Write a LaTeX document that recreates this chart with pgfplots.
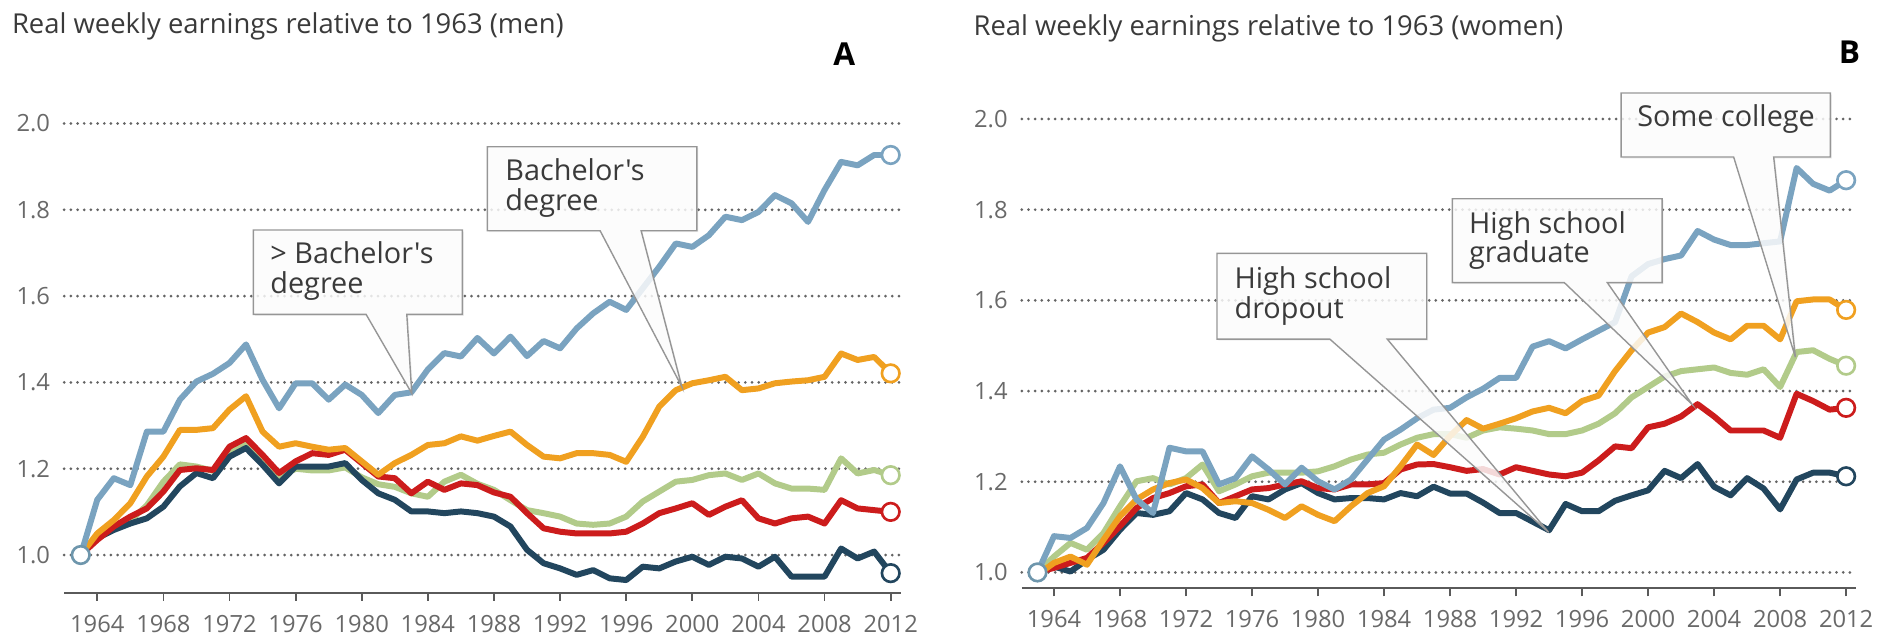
\documentclass[border=0pt]{standalone}
\usepackage{fontspec}
\setmainfont{Open Sans}[Ligatures=TeXOff]
\usepackage{pgfplots}
\usepackage{pgfplotstable}
\pgfplotsset{compat=1.18}
\usetikzlibrary{shadows}

\definecolor{cBlue}{RGB}{122,163,192}
\definecolor{cOrange}{RGB}{240,160,32}
\definecolor{cGreen}{RGB}{178,203,138}
\definecolor{cRed}{RGB}{204,28,28}
\definecolor{cNavy}{RGB}{34,70,94}
\definecolor{cStart}{RGB}{110,150,172}
\definecolor{cText}{RGB}{58,58,58}
\definecolor{cTick}{RGB}{105,105,105}
\definecolor{cAxis}{RGB}{90,90,90}
\definecolor{cGrid}{RGB}{100,100,100}
\definecolor{cBox}{RGB}{150,150,150}

% real weekly earnings relative to 1963, men
\pgfplotstableread{
year blue orange green red navy
1963 1.000 1.000 1.000 1.000 1.000
1964 1.128 1.050 1.040 1.035 1.039
1965 1.178 1.081 1.060 1.066 1.058
1966 1.162 1.120 1.080 1.089 1.073
1967 1.286 1.182 1.115 1.108 1.085
1968 1.286 1.228 1.170 1.147 1.112
1969 1.360 1.290 1.210 1.197 1.159
1970 1.402 1.290 1.205 1.201 1.190
1971 1.420 1.294 1.195 1.197 1.178
1972 1.445 1.337 1.240 1.251 1.228
1973 1.488 1.368 1.258 1.271 1.248
1974 1.406 1.286 1.222 1.232 1.209
1975 1.340 1.251 1.180 1.190 1.166
1976 1.398 1.259 1.200 1.217 1.205
1977 1.398 1.251 1.196 1.236 1.205
1978 1.360 1.244 1.196 1.232 1.205
1979 1.395 1.248 1.203 1.244 1.213
1980 1.371 1.217 1.180 1.213 1.174
1981 1.329 1.186 1.164 1.182 1.143
1982 1.371 1.213 1.158 1.178 1.128
1983 1.377 1.232 1.143 1.143 1.101
1984 1.430 1.255 1.135 1.170 1.101
1985 1.468 1.259 1.170 1.151 1.097
1986 1.460 1.275 1.186 1.166 1.101
1987 1.503 1.265 1.165 1.162 1.097
1988 1.467 1.276 1.151 1.145 1.089
1989 1.506 1.286 1.127 1.135 1.066
1990 1.461 1.255 1.104 1.097 1.012
1991 1.496 1.228 1.097 1.062 0.981
1992 1.479 1.224 1.089 1.054 0.969
1993 1.525 1.236 1.073 1.050 0.954
1994 1.560 1.236 1.070 1.050 0.965
1995 1.587 1.232 1.073 1.050 0.946
1996 1.568 1.216 1.089 1.054 0.942
1997 1.618 1.274 1.124 1.073 0.973
1998 1.668 1.344 1.147 1.097 0.969
1999 1.722 1.382 1.170 1.108 0.985
2000 1.714 1.398 1.174 1.120 0.996
2001 1.741 1.405 1.185 1.093 0.977
2002 1.784 1.413 1.189 1.112 0.996
2003 1.776 1.382 1.174 1.127 0.992
2004 1.795 1.386 1.189 1.085 0.973
2005 1.834 1.398 1.166 1.073 0.996
2006 1.815 1.402 1.154 1.085 0.950
2007 1.772 1.405 1.154 1.089 0.950
2008 1.846 1.413 1.151 1.073 0.950
2009 1.911 1.467 1.224 1.127 1.015
2010 1.903 1.452 1.189 1.108 0.992
2011 1.927 1.459 1.197 1.104 1.008
2012 1.927 1.421 1.185 1.100 0.958
}\tabMen

% same for women
\pgfplotstableread{
year blue orange green red navy
1963 1.000 0.995 1.000 1.000 1.000
1964 1.080 1.021 1.035 1.010 1.013
1965 1.076 1.035 1.065 1.021 1.002
1966 1.098 1.017 1.050 1.032 1.028
1967 1.153 1.072 1.087 1.065 1.050
1968 1.234 1.124 1.146 1.102 1.094
1969 1.161 1.161 1.201 1.142 1.131
1970 1.131 1.183 1.208 1.164 1.127
1971 1.275 1.197 1.194 1.175 1.135
1972 1.267 1.205 1.208 1.190 1.175
1973 1.267 1.186 1.238 1.194 1.161
1974 1.194 1.153 1.179 1.153 1.131
1975 1.208 1.157 1.194 1.168 1.120
1976 1.256 1.153 1.212 1.183 1.168
1977 1.227 1.138 1.220 1.186 1.161
1978 1.194 1.120 1.220 1.194 1.183
1979 1.231 1.146 1.220 1.201 1.197
1980 1.201 1.127 1.223 1.186 1.175
1981 1.183 1.113 1.234 1.183 1.161
1982 1.205 1.146 1.249 1.194 1.164
1983 1.249 1.175 1.260 1.194 1.164
1984 1.293 1.190 1.264 1.197 1.161
1985 1.315 1.234 1.282 1.227 1.175
1986 1.340 1.282 1.297 1.238 1.168
1987 1.359 1.259 1.305 1.239 1.189
1988 1.363 1.301 1.305 1.232 1.174
1989 1.386 1.336 1.297 1.224 1.174
1990 1.405 1.317 1.313 1.228 1.154
1991 1.429 1.328 1.320 1.216 1.131
1992 1.429 1.340 1.317 1.232 1.131
1993 1.498 1.355 1.313 1.224 1.112
1994 1.510 1.363 1.305 1.216 1.093
1995 1.494 1.351 1.305 1.212 1.151
1996 1.514 1.378 1.313 1.220 1.135
1997 1.533 1.390 1.328 1.247 1.135
1998 1.552 1.444 1.351 1.278 1.158
1999 1.653 1.490 1.386 1.274 1.170
2000 1.680 1.529 1.409 1.320 1.181
2001 1.691 1.541 1.432 1.328 1.224
2002 1.699 1.571 1.444 1.344 1.208
2003 1.753 1.552 1.448 1.371 1.239
2004 1.734 1.529 1.452 1.344 1.189
2005 1.722 1.514 1.440 1.313 1.170
2006 1.722 1.544 1.436 1.313 1.208
2007 1.726 1.544 1.448 1.313 1.185
2008 1.730 1.514 1.409 1.297 1.139
2009 1.892 1.598 1.486 1.394 1.205
2010 1.857 1.602 1.490 1.378 1.220
2011 1.842 1.602 1.471 1.359 1.220
2012 1.865 1.579 1.456 1.363 1.212
}\tabWomen

\pgfplotsset{
  panel/.style={
    scale only axis, anchor=south west, clip=false,
    axis x line*=bottom, axis y line*=left,
    y axis line style={draw=none},
    x axis line style={draw=cAxis, line width=1.1pt},
    xtick={1964,1968,...,2012},
    ytick={1.0,1.2,1.4,1.6,1.8,2.0},
    ymajorgrids,
    major grid style={draw=cGrid, line width=1.7pt, dash pattern=on 0pt off 3.8pt, line cap=round},
    tick align=outside,
    major tick length=0.16cm,
    xtick style={draw=cAxis, line width=1pt},
    ytick style={draw=none},
    ticklabel style={font=\fontsize{13.5}{14}\selectfont, text=cTick},
    /pgf/number format/assume math mode=true,
    xticklabel style={/pgf/number format/1000 sep={}, yshift=-0.16cm},
    yticklabel style={/pgf/number format/fixed, /pgf/number format/fixed zerofill, /pgf/number format/precision=1},
  },
  ser/.style={line width=3.4pt, line join=round, draw=#1},
  endc/.style={only marks, mark=*, mark size=5pt, mark options={fill=white, draw=#1, line width=1.5pt}},
}

% speech-bubble label: L R T B, wedge start left/right, tip x y (all in px of the reference)
\newcommand{\callout}[8]{%
  \path[fill=white, fill opacity=0.82, draw=cBox, line width=0.8pt,
        drop shadow={shadow xshift=0.03cm, shadow yshift=-0.03cm, opacity=0.12}]
    (#5,#4) -- (#7,#8) -- (#6,#4) -- (#2,#4) -- (#2,#3) -- (#1,#3) -- (#1,#4) -- cycle;
}

\begin{document}
\begin{tikzpicture}
\useasboundingbox (0,0) rectangle (37.68,12.74);

% ---- men ----
\begin{axis}[panel, at={(1.284cm,0.88cm)}, width=16.728cm, height=9.39cm,
  xmin=1962, xmax=2012.6, ymin=0.912, ymax=2.0]
  \addplot[ser=cGreen]  table[x=year, y=green]  {\tabMen};
  \addplot[ser=cNavy]   table[x=year, y=navy]   {\tabMen};
  \addplot[ser=cRed]    table[x=year, y=red]    {\tabMen};
  \addplot[ser=cOrange] table[x=year, y=orange] {\tabMen};
  \addplot[ser=cBlue]   table[x=year, y=blue]   {\tabMen};
  \addplot[endc=cGreen]  table[x=year, y=green,  skip coords between index={0}{49}] {\tabMen};
  \addplot[endc=cNavy]   table[x=year, y=navy,   skip coords between index={0}{49}] {\tabMen};
  \addplot[endc=cRed]    table[x=year, y=red,    skip coords between index={0}{49}] {\tabMen};
  \addplot[endc=cOrange] table[x=year, y=orange, skip coords between index={0}{49}] {\tabMen};
  \addplot[endc=cBlue]   table[x=year, y=blue,   skip coords between index={0}{49}] {\tabMen};
  \addplot[endc=cStart]  table[x=year, y=blue,   skip coords between index={1}{50}] {\tabMen};
\end{axis}

% ---- women ----
\begin{axis}[panel, at={(20.436cm,0.974cm)}, width=16.684cm, height=9.386cm,
  xmin=1962.05, xmax=2012.6, ymin=0.965, ymax=2.0]
  \addplot[ser=cGreen]  table[x=year, y=green]  {\tabWomen};
  \addplot[ser=cNavy]   table[x=year, y=navy]   {\tabWomen};
  \addplot[ser=cRed]    table[x=year, y=red]    {\tabWomen};
  \addplot[ser=cOrange] table[x=year, y=orange] {\tabWomen};
  \addplot[ser=cBlue]   table[x=year, y=blue]   {\tabWomen};
  \addplot[endc=cGreen]  table[x=year, y=green,  skip coords between index={0}{49}] {\tabWomen};
  \addplot[endc=cNavy]   table[x=year, y=navy,   skip coords between index={0}{49}] {\tabWomen};
  \addplot[endc=cRed]    table[x=year, y=red,    skip coords between index={0}{49}] {\tabWomen};
  \addplot[endc=cOrange] table[x=year, y=orange, skip coords between index={0}{49}] {\tabWomen};
  \addplot[endc=cBlue]   table[x=year, y=blue,   skip coords between index={0}{49}] {\tabWomen};
  \addplot[endc=cStart]  table[x=year, y=blue,   skip coords between index={1}{50}] {\tabWomen};
\end{axis}

% titles and callouts, placed in reference pixels
\begin{scope}[x=0.02cm, y=-0.02cm, yshift=12.74cm]
  \node[anchor=base west, text=cText, font=\fontsize{15.6}{18}\selectfont, inner sep=0]
    at (11.7,33.3) {Real weekly earnings relative to 1963 (men)};
  \node[anchor=base west, text=cText, font=\fontsize{15.6}{18}\selectfont, inner sep=0]
    at (973,36) {Real weekly earnings relative to 1963 (women)};
  \node[font=\fontsize{18}{20}\selectfont\bfseries, text=black] at (844,54) {A};
  \node[font=\fontsize{18}{20}\selectfont\bfseries, text=black] at (1849,52) {B};

  \callout{253.3}{462.3}{230}{314.3}{366}{406.7}{411.7}{393.3}
  \callout{487.3}{696.7}{146.7}{230.7}{600}{641}{681.7}{386.7}
  \callout{1216.7}{1426.4}{253.4}{339.1}{1329.6}{1387}{1548.3}{532.2}
  \callout{1452}{1661.8}{198.7}{282.6}{1564}{1607}{1691.7}{404.3}
  \callout{1620.7}{1830}{93}{157}{1733.3}{1773.3}{1795}{357.1}

  \begin{scope}[every node/.style={anchor=base west, inner sep=0, text=cText, font=\fontsize{16.4}{18}\selectfont}]
    \node at (270,263.3) {> Bachelor's};
    \node at (270,293.3) {degree};
    \node at (505,180) {Bachelor's};
    \node at (505,210) {degree};
    \node at (1234,288.3) {High school};
    \node at (1234,318) {dropout};
    \node at (1468.5,233.5) {High school};
    \node at (1468.5,262.7) {graduate};
    \node at (1636.7,126) {Some college};
  \end{scope}
\end{scope}
\end{tikzpicture}
\end{document}
